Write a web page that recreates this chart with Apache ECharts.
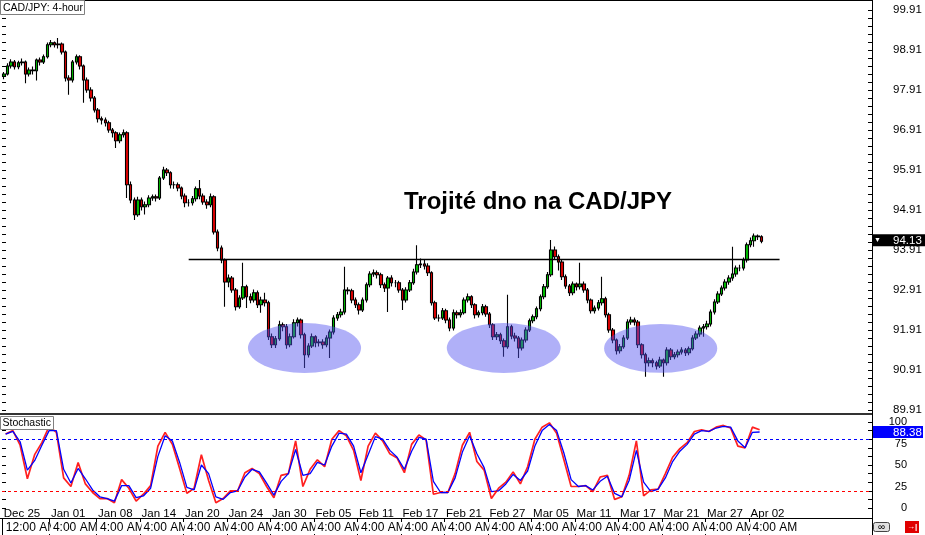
<!DOCTYPE html>
<html><head><meta charset="utf-8">
<script src="https://cdn.jsdelivr.net/npm/echarts@6/dist/echarts.min.js"></script>
<style>html,body{margin:0;padding:0;background:#fff}#c{width:925px;height:535px}</style>
</head><body><div id="c"></div>
<script>
// ---------------- DATA ----------------
const chartTitle = 'Trojité dno na CAD/JPY';
const symbolLabel = 'CAD/JPY: 4-hour';
const indicatorLabel = 'Stochastic';

// 8-hour candles [open, close, low, high]
const ohlc = [
[98.25,98.31,98.18,98.36],[98.31,98.51,98.27,98.58],[98.51,98.61,98.45,98.68],[98.61,98.49,98.42,98.66],[98.49,98.59,98.43,98.64],
[98.59,98.61,98.52,98.70],[98.61,98.31,98.08,98.65],[98.31,98.41,98.25,98.47],[98.41,98.39,98.30,98.50],[98.39,98.66,98.15,98.70],
[98.66,98.61,98.52,98.72],[98.61,98.74,98.56,98.80],[98.74,99.04,98.70,99.10],[99.04,99.09,98.98,99.16],[99.09,99.04,98.97,99.12],
[99.04,99.06,98.95,99.21],[99.06,98.86,98.80,99.10],[98.86,98.21,98.12,98.90],[98.21,98.16,97.79,98.28],[98.16,98.61,98.10,98.66],
[98.61,98.74,98.55,98.80],[98.74,98.51,98.42,98.78],[98.51,98.16,97.59,98.55],[98.16,97.91,97.84,98.22],[97.91,97.71,97.62,97.98],
[97.71,97.41,97.35,97.76],[97.41,97.19,97.10,97.46],[97.19,97.16,97.05,97.25],[97.16,97.09,97.00,97.22],[97.09,96.91,96.84,97.14],
[96.91,96.84,96.72,96.96],[96.84,96.64,96.46,96.88],[96.64,96.79,96.58,96.85],[96.79,96.84,96.72,96.92],[96.84,95.54,95.21,96.88],
[95.54,95.16,95.08,95.62],[95.16,94.79,94.66,95.22],[94.79,95.16,94.74,95.24],[95.16,94.99,94.90,95.22],[94.99,95.04,94.80,95.12],
[95.04,95.21,94.98,95.28],[95.21,95.24,95.14,95.30],[95.24,95.21,95.12,95.30],[95.21,95.71,95.16,95.76],[95.71,95.91,95.66,95.99],
[95.91,95.84,95.76,95.96],[95.84,95.54,95.45,95.88],[95.54,95.54,95.44,95.62],[95.54,95.46,95.38,95.60],[95.46,95.26,95.18,95.50],
[95.26,95.09,94.98,95.32],[95.09,95.09,95.00,95.18],[95.09,95.19,95.02,95.26],[95.19,95.44,95.12,95.50],[95.44,95.26,95.18,95.66],
[95.26,95.11,95.04,95.32],[95.11,95.04,94.94,95.18],[95.04,95.24,94.98,95.32],[95.24,94.36,94.30,95.28],[94.36,93.96,93.88,94.42],
[93.96,93.66,93.58,94.02],[93.66,93.11,92.49,93.70],[93.11,93.21,92.98,93.30],[93.21,92.91,92.84,93.26],[92.91,92.49,92.40,92.96],
[92.49,92.71,92.44,92.78],[92.71,92.99,92.66,93.59],[92.99,92.74,92.46,93.04],[92.74,92.66,92.58,92.82],[92.66,92.84,92.60,92.92],
[92.84,92.54,92.46,92.90],[92.54,92.66,92.34,92.74],[92.66,92.59,92.50,92.84],[92.59,91.74,91.66,92.64],[91.74,91.54,91.46,91.82],
[91.54,91.69,91.46,91.76],[91.69,92.04,91.64,92.14],[92.04,91.99,91.88,92.10],[91.99,91.54,91.44,92.06],[91.54,91.74,91.48,91.82],
[91.74,92.09,91.70,92.18],[92.09,92.16,92.00,92.22],[92.16,91.79,91.70,92.20],[91.79,91.29,90.96,91.84],[91.29,91.51,91.22,91.58],
[91.51,91.74,91.46,91.82],[91.74,91.59,91.48,91.78],[91.59,91.61,91.50,91.68],[91.61,91.54,91.44,91.68],[91.54,91.71,91.48,91.78],
[91.71,91.86,91.21,91.92],[91.86,92.21,91.80,92.28],[92.21,92.29,92.14,92.36],[92.29,92.36,92.22,92.44],[92.36,92.91,92.30,93.49],
[92.91,92.89,92.80,92.98],[92.89,92.66,92.58,92.94],[92.66,92.54,92.46,92.72],[92.54,92.41,92.30,92.60],[92.41,92.66,92.36,92.72],
[92.66,93.04,92.60,93.10],[93.04,93.31,92.98,93.38],[93.31,93.34,93.24,93.42],[93.34,93.29,93.20,93.40],[93.29,93.04,92.96,93.34],
[93.04,92.96,92.86,93.10],[92.96,93.21,92.36,93.26],[93.21,93.09,93.00,93.28],[93.09,93.09,92.98,93.16],[93.09,92.91,92.84,93.14],
[92.91,92.66,92.41,92.96],[92.66,92.91,92.60,92.98],[92.91,93.09,92.86,93.16],[93.09,93.36,93.04,93.44],[93.36,93.54,93.30,94.03],
[93.54,93.56,93.46,93.70],[93.56,93.51,93.42,93.68],[93.51,93.34,93.26,93.58],[93.34,92.59,92.52,93.38],[92.59,92.21,92.16,92.64],
[92.21,92.21,92.12,92.30],[92.21,92.39,92.16,92.46],[92.39,92.16,92.08,92.44],[92.16,91.96,91.88,92.22],[91.96,92.34,91.90,92.42],
[92.34,92.29,92.20,92.40],[92.29,92.34,92.22,92.42],[92.34,92.66,92.30,92.72],[92.66,92.74,92.60,92.82],[92.74,92.54,92.46,92.78],
[92.54,92.29,92.20,92.58],[92.29,92.34,92.22,92.40],[92.34,92.49,92.28,92.56],[92.49,92.31,92.24,92.54],[92.31,92.04,91.96,92.36],
[92.04,91.74,91.66,92.08],[91.74,91.79,91.66,91.86],[91.79,91.64,91.56,91.84],[91.64,91.49,91.24,91.70],[91.49,91.99,91.44,92.79],
[91.99,91.76,91.68,92.04],[91.76,91.71,91.62,91.84],[91.71,91.46,91.21,91.76],[91.46,91.66,91.40,91.72],[91.66,91.91,91.60,91.98],
[91.91,92.14,91.86,92.20],[92.14,92.24,92.08,92.30],[92.24,92.44,92.18,92.50],[92.44,92.74,92.38,92.80],[92.74,92.99,92.68,93.06],
[92.99,93.29,92.94,93.36],[93.29,93.91,93.24,94.16],[93.91,93.74,93.66,94.00],[93.74,93.61,93.40,93.80],[93.61,93.24,93.16,93.66],
[93.24,93.01,92.94,93.30],[93.01,92.84,92.76,93.06],[92.84,93.06,92.78,93.12],[93.06,92.99,92.90,93.10],[92.99,93.06,92.92,93.59],
[93.06,92.91,92.84,93.12],[92.91,92.66,92.58,92.96],[92.66,92.39,92.32,92.70],[92.39,92.46,92.32,92.52],[92.46,92.59,92.40,92.66],
[92.59,92.69,92.52,93.24],[92.69,92.29,92.22,92.74],[92.29,91.91,91.84,92.34],[91.91,91.66,91.58,91.96],[91.66,91.39,91.30,91.70],
[91.39,91.49,91.32,91.56],[91.49,91.71,91.44,91.78],[91.71,92.11,91.66,92.18],[92.11,92.16,92.04,92.24],[92.16,92.11,92.02,92.22],
[92.11,91.54,91.46,92.16],[91.54,91.29,91.20,91.58],[91.29,91.09,90.74,91.34],[91.09,91.14,91.00,91.22],[91.14,91.09,90.98,91.20],
[91.09,91.01,90.92,91.14],[91.01,91.16,90.96,91.24],[91.16,91.09,90.74,91.20],[91.09,91.41,91.02,91.48],[91.41,91.24,91.16,91.46],
[91.24,91.29,91.18,91.36],[91.29,91.36,91.22,91.42],[91.36,91.41,91.30,91.48],[91.41,91.34,91.26,91.46],[91.34,91.44,91.28,91.50],
[91.44,91.71,91.40,91.78],[91.71,91.81,91.66,91.88],[91.81,91.96,91.74,92.02],[91.96,91.99,91.74,92.06],[91.99,92.06,91.92,92.14],
[92.06,92.36,92.00,92.42],[92.36,92.61,92.30,92.68],[92.61,92.81,92.56,92.88],[92.81,92.96,92.76,93.02],[92.96,93.11,92.90,93.18],
[93.11,93.21,93.04,93.28],[93.21,93.31,93.14,93.99],[93.31,93.46,93.24,93.52],[93.46,93.46,93.38,93.54],[93.46,93.66,93.40,93.72],
[93.66,94.04,93.60,94.10],[94.04,94.14,93.98,94.22],[94.14,94.26,93.99,94.32],[94.26,94.24,94.16,94.30],[94.24,94.13,94.08,94.28]
];

// Stochastic (sampled every 2 candles)
const stochMain = [86,90,73,34,62,76,95,88,35,25,53,28,18,11,11,6,33,23,8,16,
26,72,88,74,46,17,23,62,32,6,11,20,20,41,46,40,25,12,38,40,
78,25,45,56,48,80,90,84,67,32,72,87,78,63,58,41,74,85,79,16,
18,18,40,73,88,54,44,11,23,30,42,28,48,80,94,99,87,56,25,25,
26,19,36,38,10,13,38,78,14,21,22,40,59,69,76,89,91,89,94,96,
93,72,70,94,91];
const stochSignal = [86,89,77,44,55,73,90,90,45,29,46,34,21,13,11,8,26,26,12,14,
23,60,84,78,53,24,21,50,40,13,10,18,20,36,45,42,29,15,31,40,
68,38,40,53,50,72,87,86,72,41,62,83,80,67,59,45,66,82,80,31,
18,18,35,65,84,63,47,19,20,28,39,32,43,72,90,97,90,64,33,25,
26,21,31,37,17,13,32,67,30,19,22,35,54,66,74,86,90,89,93,95,
94,78,70,88,88.38];

const dateLabels = ['Dec 25','Jan 01','Jan 08','Jan 14','Jan 20','Jan 24','Jan 30','Feb 05','Feb 11','Feb 17','Feb 21','Feb 27','Mar 05','Mar 11','Mar 17','Mar 21','Mar 27','Apr 02'];
const timeLabels = ['12:00 AM','4:00 AM','4:00 AM','4:00 AM','4:00 AM','4:00 AM','4:00 AM','4:00 AM','4:00 AM','4:00 AM','4:00 AM','4:00 AM','4:00 AM','4:00 AM','4:00 AM','4:00 AM','4:00 AM','4:00 AM'];
const labelCandles = [0,13,26,38,50,62,74,86,98,110,122,134,146,158,170,182,194,206];
const priceLabels = [89.91,90.91,91.91,92.91,93.91,94.91,95.91,96.91,97.91,98.91,99.91];
const stochLabels = [0,25,50,75,100];
const stochLevels = {upper: 80, lower: 20};
const resistance = {price: 93.685, from: 51, to: 214};
const ellipses = [
  {i: 82.95, p: 91.46, di: 15.6, dp: 0.625},
  {i: 137.9, p: 91.46, di: 15.7, dp: 0.625},
  {i: 181.2, p: 91.45, di: 15.6, dp: 0.61}
];
const lastPrice = 94.13;
const lastStoch = 88.38;

// ---------------- CHART ----------------
const FONT = "'Liberation Sans', Arial, sans-serif";
const N_CATS = 240;   // candles + empty chart-shift space
const cats = Array.from({length: N_CATS}, (_, i) => String(i));
const stochCats = Array.from({length: 120}, (_, i) => String(i));
const dateAt = new Map(labelCandles.map((c, k) => [c, dateLabels[k]]));
const timeAt = new Map(labelCandles.map((c, k) => [c, timeLabels[k]]));
const pMin = priceLabels[0], pMax = priceLabels[priceLabels.length - 1];
const priceTicks = []; for (let k = 0; k <= 50; k++) priceTicks.push(+(pMin + k * 0.2).toFixed(2));
const stochTicks = []; for (let k = 0; k <= 10; k++) stochTicks.push(k * 10);

const chart = echarts.init(document.getElementById('c'), null, {renderer: 'canvas'});
const tickStyle = {color: '#000', width: 1};
const option = {
  animation: false,
  backgroundColor: '#fff',
  title: {text: chartTitle, left: 404, top: 190, padding: 0,
    textStyle: {fontFamily: FONT, fontSize: 24, fontWeight: 'bold', color: '#000'}},
  grid: [
    {left: 2, right: 53, top: 10, height: 400},
    {left: 2, right: 53, top: 422, height: 86}
  ],
  xAxis: [
    {type: 'category', gridIndex: 0, data: cats, boundaryGap: true, show: false},
    {type: 'category', gridIndex: 1, data: cats, boundaryGap: true,
      axisLine: {show: false}, axisTick: {show: false}, splitLine: {show: false},
      axisLabel: {interval: 0, formatter: (v, i) => dateAt.get(i) || '',
        align: 'left', margin: 0, fontSize: 11.5, color: '#000', fontFamily: FONT}},
    {type: 'category', gridIndex: 1, data: stochCats, boundaryGap: true, show: false},
    {type: 'category', gridIndex: 1, data: cats, boundaryGap: true, position: 'bottom', offset: 11,
      axisLine: {show: false}, splitLine: {show: false},
      axisTick: {show: true, interval: (i) => timeAt.has(i), length: 16, inside: false, lineStyle: tickStyle},
      axisLabel: {interval: 0, formatter: (v, i) => timeAt.has(i) ? '{t|' + timeAt.get(i) + '}' : '',
        align: 'left', margin: 3,
        rich: {t: {fontSize: 12, color: '#000', fontFamily: FONT, backgroundColor: '#fff', padding: [0, 0, 0, 2]}}}}
  ],
  yAxis: [
    {type: 'value', gridIndex: 0, position: 'right', min: pMin, max: pMax,
      splitLine: {show: false}, axisLine: {show: false},
      axisTick: {show: true, inside: true, length: 4, customValues: priceTicks, lineStyle: tickStyle},
      axisLabel: {customValues: priceLabels, formatter: (v) => v.toFixed(2), margin: 21, align: 'left',
        fontSize: 11.5, color: '#000', fontFamily: FONT}},
    {type: 'value', gridIndex: 0, position: 'left', min: pMin, max: pMax,
      splitLine: {show: false}, axisLine: {show: false}, axisLabel: {show: false},
      axisTick: {show: true, inside: true, length: 4, customValues: priceTicks, lineStyle: tickStyle}},
    {type: 'value', gridIndex: 1, position: 'right', min: 0, max: 100,
      splitLine: {show: false}, axisLine: {show: false},
      axisTick: {show: true, inside: true, length: 4, customValues: stochTicks, lineStyle: tickStyle},
      axisLabel: {customValues: stochLabels, margin: 35, align: 'right',
        fontSize: 11, color: '#000', fontFamily: FONT}},
    {type: 'value', gridIndex: 1, position: 'left', min: 0, max: 100,
      splitLine: {show: false}, axisLine: {show: false}, axisLabel: {show: false},
      axisTick: {show: true, inside: true, length: 4, customValues: stochTicks, lineStyle: tickStyle}}
  ],
  series: [
    {type: 'candlestick', xAxisIndex: 0, yAxisIndex: 0, data: ohlc, barWidth: 3,
      itemStyle: {color: '#00c000', color0: '#e00000', borderColor: '#000', borderColor0: '#000',
        borderColorDoji: '#000', borderWidth: 1.1},
      markLine: {symbol: ['none', 'none'], silent: true, animation: false, label: {show: false},
        lineStyle: {color: '#000', width: 1.3, type: 'solid'},
        data: [[{coord: [resistance.from, resistance.price]}, {coord: [resistance.to, resistance.price]}]]}},
    {type: 'line', xAxisIndex: 2, yAxisIndex: 2, data: stochMain, symbol: 'none',
      lineStyle: {color: '#ff2020', width: 1.7},
      markLine: {symbol: ['none', 'none'], silent: true, animation: false, label: {show: false},
        data: [
          {yAxis: stochLevels.upper, lineStyle: {color: '#0000ff', type: [3, 3], width: 1}},
          {yAxis: stochLevels.lower, lineStyle: {color: '#ff0000', type: [3, 3], width: 1}}
        ]}},
    {type: 'line', xAxisIndex: 2, yAxisIndex: 2, data: stochSignal, symbol: 'none',
      lineStyle: {color: '#0000ff', width: 1.3}}
  ]
};
chart.setOption(option);

// ---------- annotations positioned through the axes ----------
function pix(i, p) {
  const a = chart.convertToPixel({xAxisIndex: 0, yAxisIndex: 0}, [0, p]);
  const b = chart.convertToPixel({xAxisIndex: 0, yAxisIndex: 0}, [1, p]);
  return [a[0] + (b[0] - a[0]) * i, a[1]];
}
const g = [];
ellipses.forEach(e => {
  const c = pix(e.i, e.p);
  const rx = pix(e.i + e.di, e.p)[0] - c[0];
  const ry = c[1] - pix(e.i, e.p + e.dp)[1];
  g.push({type: 'circle', x: c[0], y: c[1], scaleX: rx / ry, scaleY: 1, shape: {cx: 0, cy: 0, r: ry},
    style: {fill: 'rgba(80,80,240,0.45)', stroke: null}, z: 100, silent: true});
});
const RX = 872;
// frame
[[0, 0.5, RX, 0.5, 1, '#000'], [RX + 0.5, 0, RX + 0.5, 519, 1, '#000'], [0, 414, RX, 414, 2, '#333'],
 [0, 518.5, RX, 518.5, 1, '#000'], [2.5, 519, 2.5, 535, 1, '#000']].forEach(l => {
  g.push({type: 'line', shape: {x1: l[0], y1: l[1], x2: l[2], y2: l[3]}, style: {stroke: l[5], lineWidth: l[4]}, z: 90, silent: true});
});
// current price label
const yP = pix(0, lastPrice)[1];
g.push({type: 'rect', shape: {x: RX, y: yP - 7, width: 925 - RX, height: 12}, style: {fill: '#000'}, z: 110});
g.push({type: 'text', x: 874, y: yP - 1, style: {text: '▼', fill: '#fff', fontSize: 7, fontFamily: FONT, verticalAlign: 'middle'}, z: 111});
g.push({type: 'text', x: 893, y: yP - 0.5, style: {text: lastPrice.toFixed(2), fill: '#fff', fontSize: 11.5, fontFamily: FONT, verticalAlign: 'middle'}, z: 111});
// stochastic value label
const yS = chart.convertToPixel({xAxisIndex: 2, yAxisIndex: 2}, [0, lastStoch])[1];
g.push({type: 'rect', shape: {x: RX + 1, y: yS - 6, width: 50, height: 12}, style: {fill: '#0000ff'}, z: 110});
g.push({type: 'text', x: 893, y: yS + 0.5, style: {text: lastStoch.toFixed(2), fill: '#fff', fontSize: 11.5, fontFamily: FONT, verticalAlign: 'middle'}, z: 111});
// legend boxes
g.push({type: 'rect', shape: {x: 0.5, y: 0.5, width: 84, height: 14}, style: {fill: '#fff', stroke: '#808080'}, z: 120});
g.push({type: 'text', x: 3, y: 8, style: {text: symbolLabel, fill: '#000', fontSize: 10.5, fontFamily: FONT, verticalAlign: 'middle'}, z: 121});
g.push({type: 'rect', shape: {x: 0.5, y: 416.5, width: 53, height: 13}, style: {fill: '#fff', stroke: '#808080'}, z: 120});
g.push({type: 'text', x: 2.5, y: 423.5, style: {text: indicatorLabel, fill: '#000', fontSize: 10.5, fontFamily: FONT, verticalAlign: 'middle'}, z: 121});
// bottom-right icons
g.push({type: 'rect', shape: {x: 873.5, y: 522.5, width: 16, height: 9, r: 2}, style: {fill: '#e0e0e0', stroke: '#444'}, z: 120});
g.push({type: 'text', x: 881.5, y: 527, style: {text: '∞', fill: '#000', fontSize: 10, fontFamily: FONT, align: 'center', verticalAlign: 'middle'}, z: 121});
g.push({type: 'rect', shape: {x: 905, y: 521, width: 14, height: 12}, style: {fill: '#e00000'}, z: 120});
g.push({type: 'text', x: 912, y: 527, style: {text: '→|', fill: '#fff', fontSize: 8, fontWeight: 'bold', fontFamily: FONT, align: 'center', verticalAlign: 'middle'}, z: 121});
chart.setOption({graphic: {elements: g}});
</script>
</body></html>
